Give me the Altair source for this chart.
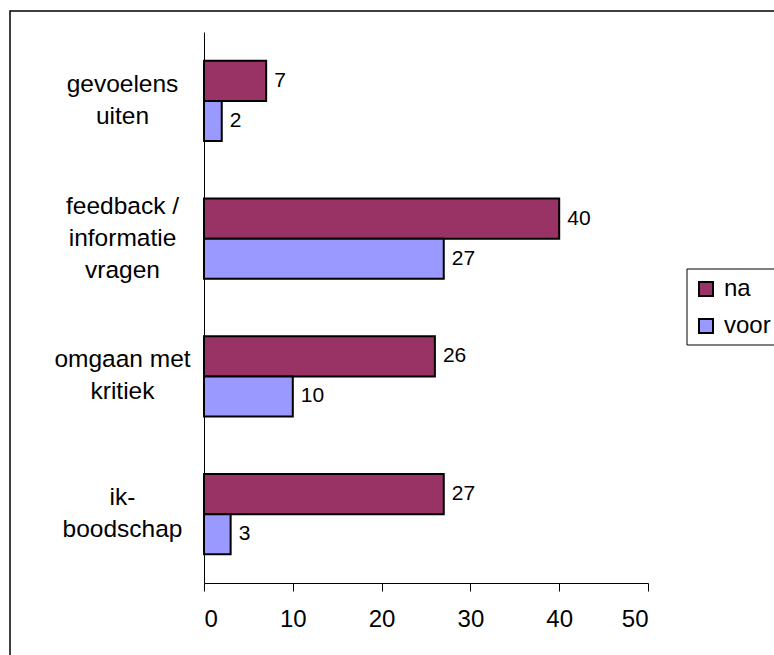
import altair as alt
import pandas as pd

# Survey scores per skill, before ("voor") and after ("na")
categories = [
    "gevoelens\nuiten",
    "feedback /\ninformatie\nvragen",
    "omgaan met\nkritiek",
    "ik-\nboodschap",
]
na = [7, 40, 26, 27]
voor = [2, 27, 10, 3]
series = ["na", "voor"]
colors = ["#993366", "#9999FF"]
x_ticks = [0, 10, 20, 30, 40, 50]

rows = []
for cat, a, b in zip(categories, na, voor):
    rows.append({"categorie": cat, "reeks": "na", "waarde": a})
    rows.append({"categorie": cat, "reeks": "voor", "waarde": b})
df = pd.DataFrame(rows)

FONT = "Liberation Sans"
LINE_H = 32

y_enc = alt.Y(
    "categorie:N",
    sort=categories,
    scale=alt.Scale(paddingInner=0.419, paddingOuter=0.2095),
    axis=alt.Axis(
        title=None,
        ticks=False,
        tickSize=0,
        domainColor="black",
        domainWidth=1,
        labelExpr="split(datum.label, '\\n')",
        labelAlign="center",
        labelBaseline="middle",
        # shift each multi-line label up by half its extra lines so the block is centred
        labelOffset={
            "condition": {
                "test": "length(split(datum.label, '\\n')) == 3",
                "value": -LINE_H,
            },
            "value": -LINE_H / 2,
        },
        labelPadding=82,
        labelFontSize=24.5,
        labelLineHeight=LINE_H,
        labelColor="black",
        labelFont=FONT,
        labelLimit=300,
    ),
)
x_enc = alt.X(
    "waarde:Q",
    scale=alt.Scale(domain=[0, 50], nice=False),
    axis=alt.Axis(
        title=None,
        values=x_ticks,
        grid=False,
        domainColor="black",
        tickColor="black",
        tickSize=8,
        labelFontSize=24,
        labelPadding=16,
        labelColor="black",
        labelFont=FONT,
    ),
)
yoff = alt.YOffset("reeks:N", sort=series, scale=alt.Scale(paddingInner=0, paddingOuter=0))
color = alt.Color(
    "reeks:N",
    sort=series,
    scale=alt.Scale(domain=series, range=colors),
    legend=alt.Legend(
        title=None,
        orient="none",
        legendX=482,
        legendY=237,
        padding=8,
        symbolType="square",
        symbolSize=196,
        symbolStrokeColor="black",
        symbolStrokeWidth=2,
        symbolOffset=0,
        labelOffset=6,
        labelFontSize=24,
        labelFont=FONT,
        labelColor="black",
        rowPadding=13,
        strokeColor="transparent",
    ),
)

bars = alt.Chart(df).mark_bar(stroke="black", strokeWidth=2).encode(
    y=y_enc, x=x_enc, yOffset=yoff, color=color
)

labels = alt.Chart(df).mark_text(
    align="left", baseline="middle", dx=8, fontSize=21, font=FONT, color="black"
).encode(
    y=alt.Y("categorie:N", sort=categories),
    x="waarde:Q",
    yOffset=alt.YOffset("reeks:N", sort=series),
    text="waarde:Q",
)

# Outer frame around the whole chart and the frame around the legend
frame = alt.Chart(pd.DataFrame({"k": [0]})).mark_rect(
    fill=None, stroke="black", strokeWidth=1.5
).encode(
    x=alt.value(-194), x2=alt.value(700), y=alt.value(-21), y2=alt.value(700)
)
legend_frame = alt.Chart(pd.DataFrame({"k": [0]})).mark_rect(
    fill=None, stroke="black", strokeWidth=1
).encode(
    x=alt.value(483), x2=alt.value(700), y=alt.value(237), y2=alt.value(313)
)

chart = (
    alt.layer(bars, labels, frame, legend_frame)
    .properties(
        width=444,
        height=551,
        autosize=alt.AutoSizeParams(type="none"),
        padding={"left": 204, "top": 32, "right": 126, "bottom": 72},
        background="white",
    )
    .configure_view(stroke=None)
)

chart.save("out.html", embed_options={"renderer": "svg", "actions": False})
